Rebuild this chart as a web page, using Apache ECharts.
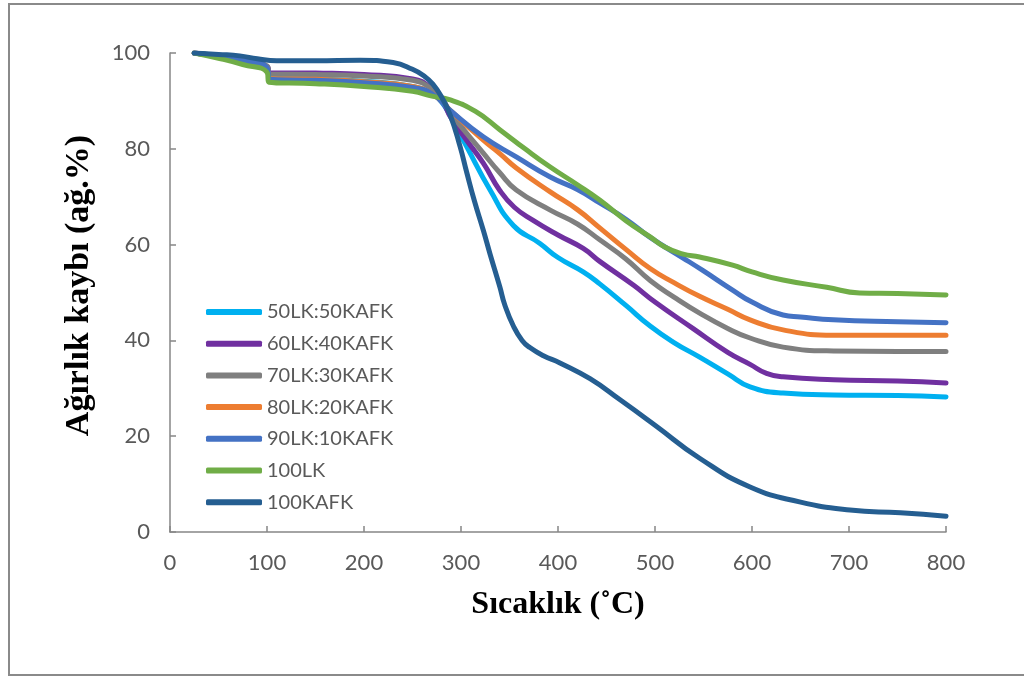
<!DOCTYPE html>
<html>
<head>
<meta charset="utf-8">
<script src="https://cdn.jsdelivr.net/npm/echarts@6/dist/echarts.min.js"></script>
<style>
  html, body { margin: 0; padding: 0; background: #fff; }
  #chart { width: 1024px; height: 677px; }
</style>
</head>
<body>
<div id="chart"></div>
<script>
// series names, in legend order
var seriesNames = ['50LK:50KAFK', '60LK:40KAFK', '70LK:30KAFK', '80LK:20KAFK', '90LK:10KAFK', '100LK', '100KAFK'];
var seriesColors = ['#00B0F0', '#7030A0', '#7F7F7F', '#ED7D31', '#4472C4', '#70AD47', '#255E91'];

// [temperature (°C), weight %]
var lk50 = [[25,100],[50,99.2],[75,98.2],[100,96.8],[103,94.9],[150,94.6],[200,94.1],[250,93.0],[270,91.5],[280,89.8],
  [290,86.5],[306,80.4],[330,71.4],[354,64],[381,60.3],[400,57.3],[426,54.3],[443,51.8],[470,47.3],[495,43],[520,39.5],
  [546,36.5],[575,33],[598,30.3],[632,29],[684,28.6],[750,28.5],[800,28.2]];
var lk60 = [[25,100],[50,99.3],[75,98.5],[100,97.2],[103,95.9],[150,95.8],[200,95.5],[250,94.6],[270,92.5],[282,89.5],
  [289,86.7],[305,82],[323,77],[340,71.3],[355,67.8],[374,65.1],[400,62],[426,59.2],[443,56.5],[478,51.5],[500,48],
  [539,42.5],[575,37.5],[598,35],[615,33.1],[632,32.4],[684,31.8],[750,31.5],[800,31.1]];
var lk70 = [[25,100],[50,99.4],[75,98.6],[100,97.3],[103,95.6],[150,95.5],[200,95.2],[250,94.3],[270,92.5],[282,90],
  [289,87.5],[323,79.1],[340,75],[357,71.4],[392,67.2],[420,64.3],[443,61],[470,57],[495,52.5],[520,49],[546,45.7],
  [575,42.5],[598,40.5],[632,38.6],[684,37.8],[750,37.7],[800,37.7]];
var lk80 = [[25,100],[50,99.2],[75,98.2],[100,96.8],[103,94.7],[150,94.5],[200,94],[250,93],[270,91.5],[282,89.5],
  [289,88],[323,81.8],[340,79],[357,76],[392,71],[420,67.3],[443,63.5],[470,59],[495,55],[520,52],[546,49.2],
  [575,46.5],[598,44.3],[632,42.2],[684,41.1],[750,41.1],[800,41.1]];
var lk90 = [[25,100],[50,99.3],[75,98.4],[100,97],[103,94.5],[150,94.3],[200,93.8],[250,92.8],[270,91.5],[289,88],
  [323,82.5],[357,78.3],[392,74.1],[420,71.5],[443,68.7],[470,65.3],[495,61.5],[529,57.2],[550,54.5],[580,50.5],
  [600,48],[632,45.3],[650,44.9],[684,44.3],[750,43.9],[800,43.7]];
var lk100 = [[25,100],[50,98.9],[75,97.6],[100,96],[102,93.9],[150,93.6],[200,93],[250,92],[270,91],[289,90.2],
  [315,87.8],[340,84],[366,80],[392,76.2],[420,72.5],[443,69.3],[470,65],[495,61.6],[510,59.5],[529,58],[546,57.4],
  [580,55.7],[600,54.3],[632,52.6],[677,51.1],[711,49.9],[750,49.8],[800,49.5]];
var kafk100 = [[25,100],[50,99.7],[72,99.4],[90,98.8],[110,98.4],[150,98.4],[196,98.5],[230,98],[250,96.6],[262,95.2],
  [271,93.5],[280,90.8],[289,87],[299,80.5],[306,75],[314,69],[323,63],[330,58],[340,51.2],[345,47.5],[354,43],
  [363,40],[371,38.5],[385,36.8],[402,35.3],[433,32],[464,27.6],[500,22.3],[546,15.4],[598,9.4],[649,6.3],
  [701,4.6],[753,4.0],[800,3.3]];
var seriesData = [lk50, lk60, lk70, lk80, lk90, lk100, kafk100];

var axisGray = '#868686';
var labelGray = '#595959';
var labelFont = 'Lato, "Open Sans", sans-serif';
var titleFont = '"Liberation Serif", "Times New Roman", serif';

var chart = echarts.init(document.getElementById('chart'));

var series = [];
for (var i = 0; i < seriesNames.length; i++) {
  series.push({
    name: seriesNames[i],
    type: 'line',
    data: seriesData[i],
    showSymbol: false,
    smooth: 0.5,
    color: seriesColors[i],
    itemStyle: { color: seriesColors[i] },
    lineStyle: { width: 5, color: seriesColors[i], cap: 'round', join: 'round' }
  });
}

chart.setOption({
  animation: false,
  backgroundColor: '#fff',
  grid: { left: 170, right: 78, top: 53, bottom: 145 },
  legend: {
    data: seriesNames,
    orient: 'vertical',
    left: 201,
    top: 297,
    icon: 'roundRect',
    itemWidth: 56,
    itemHeight: 6,
    itemGap: 11.7,
    textStyle: { fontFamily: labelFont, fontSize: 20, color: labelGray, lineHeight: 20 }
  },
  xAxis: {
    type: 'value',
    min: 0, max: 800, interval: 100,
    name: 'Sıcaklık (˚C)',
    nameLocation: 'middle',
    nameGap: 57,
    nameTextStyle: { fontFamily: titleFont, fontWeight: 'bold', fontSize: 32, color: '#000' },
    axisLine: { show: true, lineStyle: { color: axisGray, width: 1.5 } },
    axisTick: { show: true, inside: true, length: 6, lineStyle: { color: axisGray, width: 1.5 } },
    axisLabel: { margin: 20, fontFamily: labelFont, fontSize: 22, color: labelGray },
    splitLine: { show: false }
  },
  yAxis: {
    type: 'value',
    min: 0, max: 100, interval: 20,
    name: 'Ağırlık kaybı (ağ.%)',
    nameLocation: 'middle',
    nameGap: 74,
    nameTextStyle: { fontFamily: titleFont, fontWeight: 'bold', fontSize: 34, color: '#000', padding: [0, 0, 0, 14] },
    axisLine: { show: true, lineStyle: { color: axisGray, width: 1.5 } },
    axisTick: { show: true, inside: true, length: 6, lineStyle: { color: axisGray, width: 1.5 } },
    axisLabel: { margin: 20, fontFamily: labelFont, fontSize: 22, color: labelGray },
    splitLine: { show: false }
  },
  graphic: [{
    type: 'rect',
    silent: true,
    z: -1,
    shape: { x: 9, y: 4, width: 1030, height: 671 },
    style: { fill: 'none', stroke: '#8a8a8a', lineWidth: 2 }
  }],
  series: series
});
</script>
</body>
</html>
